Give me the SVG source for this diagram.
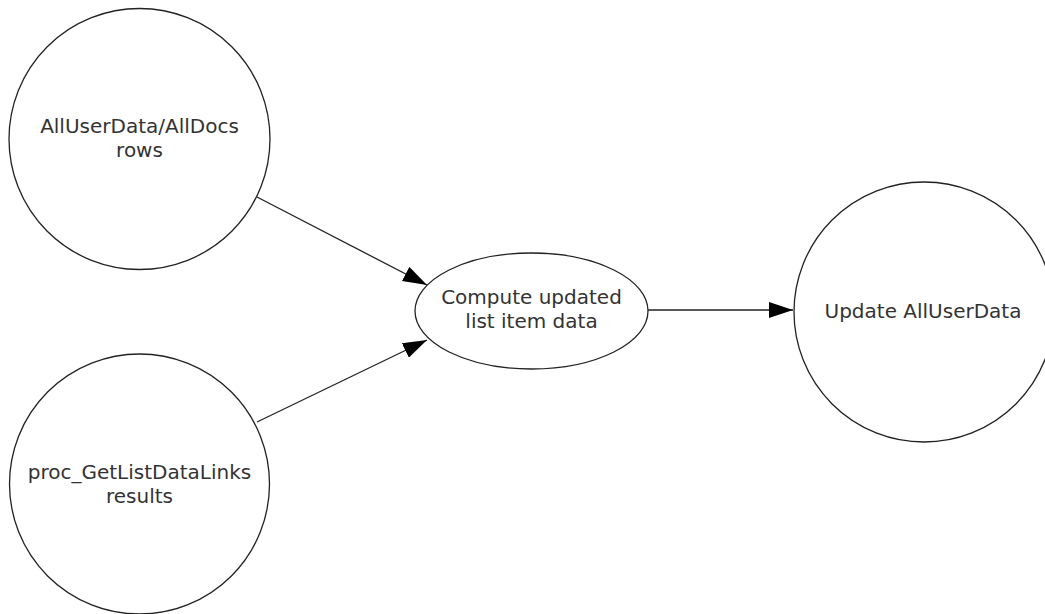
<svg xmlns="http://www.w3.org/2000/svg" width="1045" height="614" viewBox="0 0 1045 614">
<style>
.shape{fill:#ffffff;stroke:#222222;stroke-width:1.3}
.lbl{font-family:"DejaVu Sans","Verdana",sans-serif;font-size:20px;fill:#333333;text-anchor:middle}
.conn{stroke:#222222;stroke-width:1.3;fill:none}
</style>
<defs>
<marker id="arr" markerWidth="24" markerHeight="16" refX="24" refY="8" orient="auto" markerUnits="userSpaceOnUse">
<path d="M0,0 L24,8 L0,16 Z" fill="#000000"/>
</marker>
</defs>
<rect width="1045" height="614" fill="#ffffff"/>
<g id="n_alluserdata_rows">
<circle class="shape" cx="139.5" cy="139" r="130.5"/>
<text class="lbl" x="139.5" y="133">AllUserData/AllDocs</text>
<text class="lbl" x="139.5" y="157">rows</text>
</g>
<g id="n_proc_results">
<circle class="shape" cx="139.5" cy="484" r="130"/>
<text class="lbl" x="139.5" y="479">proc_GetListDataLinks</text>
<text class="lbl" x="139.5" y="503">results</text>
</g>
<g id="n_compute">
<ellipse class="shape" cx="531.5" cy="311" rx="116.5" ry="58"/>
<text class="lbl" x="531.5" y="304">Compute updated</text>
<text class="lbl" x="531.5" y="328">list item data</text>
</g>
<g id="n_update">
<circle class="shape" cx="924" cy="312" r="130"/>
<text class="lbl" x="923" y="318">Update AllUserData</text>
</g>
<g id="connectors">
<line class="conn" x1="257" y1="197" x2="427" y2="285" marker-end="url(#arr)"/>
<line class="conn" x1="257" y1="422" x2="427" y2="340" marker-end="url(#arr)"/>
<line class="conn" x1="648" y1="310" x2="793" y2="310" marker-end="url(#arr)"/>
</g>
</svg>
